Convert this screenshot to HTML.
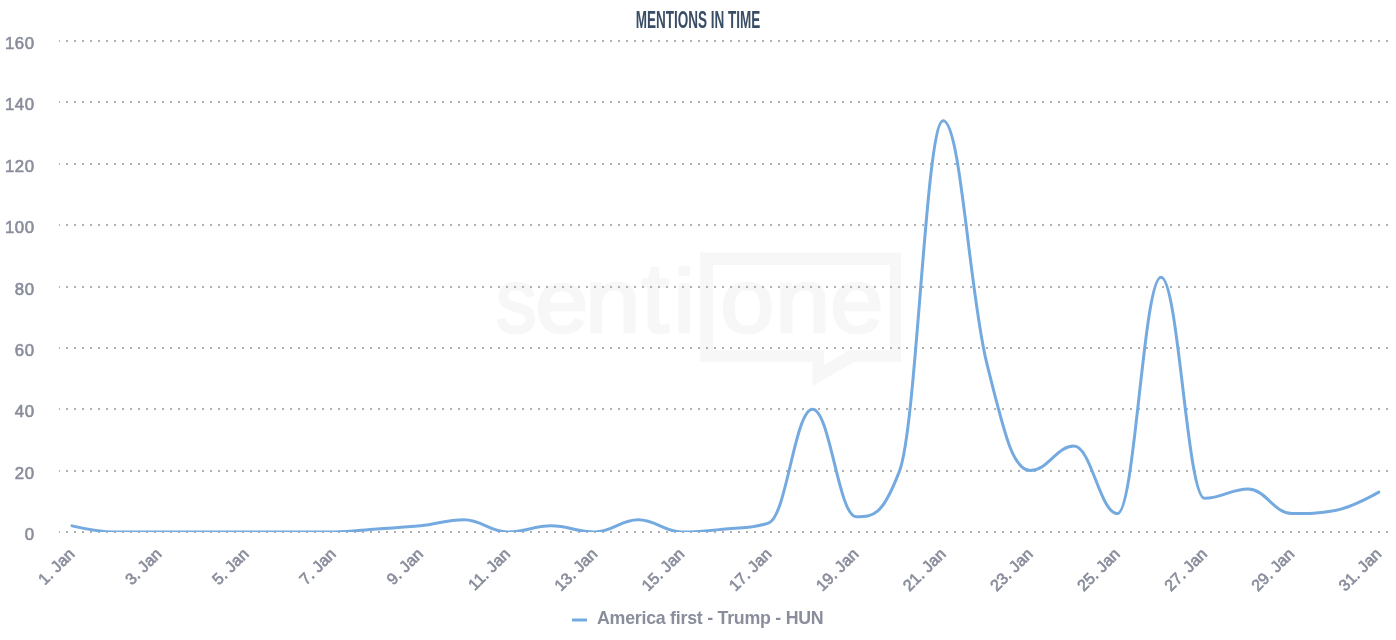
<!DOCTYPE html>
<html><head><meta charset="utf-8"><style>
html,body{margin:0;padding:0;background:#fff;}
body{width:1396px;height:640px;overflow:hidden;}
svg{display:block;will-change:transform;}
text{font-family:"Liberation Sans",sans-serif;}
.yl{font-size:16.8px;letter-spacing:0.6px;fill:#898d9b;stroke:#898d9b;stroke-width:0.6px;}
.xl{font-size:16px;fill:#8a8e9c;stroke:#8a8e9c;stroke-width:0.65px;}
.title{font-size:23.3px;font-weight:bold;fill:#3a4d66;}
.leg{font-size:17.8px;letter-spacing:-0.25px;font-weight:bold;fill:#8a8e9c;}
</style></head><body>
<svg width="1396" height="640" viewBox="0 0 1396 640">

<g fill="#f7f7f7">
<text transform="matrix(0.4086 0 0 0.4522 495.77 331.74)" font-size="200" stroke="#f7f7f7" stroke-width="6">s</text>
<text transform="matrix(0.4737 0 0 0.4483 535.56 331.76)" font-size="200" stroke="#f7f7f7" stroke-width="6">e</text>
<text transform="matrix(0.4978 0 0 0.4518 585.02 332.14)" font-size="200" stroke="#f7f7f7" stroke-width="6">n</text>
<text transform="matrix(0.4930 0 0 0.4891 641.60 331.55)" font-size="200" stroke="#f7f7f7" stroke-width="6">t</text>
<text transform="matrix(0.4875 0 0 0.4483 673.42 332.15)" font-size="200" stroke="#f7f7f7" stroke-width="6">i</text>
<text transform="matrix(0.4871 0 0 0.4569 720.26 331.72)" font-size="200" stroke="#f7f7f7" stroke-width="6">o</text>
<text transform="matrix(0.4945 0 0 0.4561 775.35 331.63)" font-size="200" stroke="#f7f7f7" stroke-width="6">n</text>
<text transform="matrix(0.4768 0 0 0.4569 830.14 331.72)" font-size="200" stroke="#f7f7f7" stroke-width="6">e</text>
<path d="M700 252.5 H901 V362 H854 L812.5 386 V362 H700 Z M713 265 V350 H824 V365 L850 350 H890 V265 Z" fill-rule="evenodd"/>
</g>
<path d="M59 41 H1388" stroke="#b0b0b0" stroke-width="2" stroke-dasharray="2,6" stroke-dashoffset="1"/>
<path d="M59 102 H1388" stroke="#b0b0b0" stroke-width="2" stroke-dasharray="2,6" stroke-dashoffset="1"/>
<path d="M59 164 H1388" stroke="#b0b0b0" stroke-width="2" stroke-dasharray="2,6" stroke-dashoffset="1"/>
<path d="M59 225 H1388" stroke="#b0b0b0" stroke-width="2" stroke-dasharray="2,6" stroke-dashoffset="1"/>
<path d="M59 287 H1388" stroke="#b0b0b0" stroke-width="2" stroke-dasharray="2,6" stroke-dashoffset="1"/>
<path d="M59 348 H1388" stroke="#b0b0b0" stroke-width="2" stroke-dasharray="2,6" stroke-dashoffset="1"/>
<path d="M59 409 H1388" stroke="#b0b0b0" stroke-width="2" stroke-dasharray="2,6" stroke-dashoffset="1"/>
<path d="M59 471 H1388" stroke="#b0b0b0" stroke-width="2" stroke-dasharray="2,6" stroke-dashoffset="1"/>
<path d="M59 532 H1388" stroke="#b0b0b0" stroke-width="2" stroke-dasharray="2,6" stroke-dashoffset="1"/>
<text x="34.7" y="48.8" text-anchor="end" class="yl">160</text>
<text x="34.7" y="109.8" text-anchor="end" class="yl">140</text>
<text x="34.7" y="171.8" text-anchor="end" class="yl">120</text>
<text x="34.7" y="232.8" text-anchor="end" class="yl">100</text>
<text x="34.7" y="294.8" text-anchor="end" class="yl">80</text>
<text x="34.7" y="355.8" text-anchor="end" class="yl">60</text>
<text x="34.7" y="416.8" text-anchor="end" class="yl">40</text>
<text x="34.7" y="478.8" text-anchor="end" class="yl">20</text>
<text x="34.7" y="539.8" text-anchor="end" class="yl">0</text>
<clipPath id="pc"><rect x="0" y="0" width="1396" height="532"/></clipPath><path clip-path="url(#pc)" d="M 72.00 525.86 C 72.00 525.86 98.14 532.00 115.56 532.00 C 132.98 532.00 141.70 532.00 159.12 532.00 C 176.54 532.00 185.26 532.00 202.68 532.00 C 220.10 532.00 228.82 532.00 246.24 532.00 C 263.66 532.00 272.38 532.00 289.80 532.00 C 307.22 532.00 315.94 532.00 333.36 532.00 C 350.78 532.00 359.50 530.16 376.92 528.93 C 394.34 527.70 403.06 527.70 420.48 525.86 C 437.90 524.02 446.62 519.73 464.04 519.73 C 481.46 519.73 490.18 532.00 507.60 532.00 C 525.02 532.00 533.74 525.86 551.16 525.86 C 568.58 525.86 577.30 532.00 594.72 532.00 C 612.14 532.00 620.86 519.73 638.28 519.73 C 655.70 519.73 664.42 532.00 681.84 532.00 C 699.26 532.00 707.98 530.77 725.40 528.93 C 742.82 527.09 751.54 528.93 768.96 522.79 C 786.38 516.66 795.10 409.25 812.52 409.25 C 829.94 409.25 838.66 516.66 856.08 516.66 C 873.50 516.66 882.22 516.66 899.64 470.62 C 917.06 424.59 925.78 120.79 943.20 120.79 C 960.62 120.79 969.34 293.25 986.76 363.22 C 1004.18 433.19 1012.90 470.62 1030.32 470.62 C 1047.74 470.62 1056.46 446.07 1073.88 446.07 C 1091.30 446.07 1100.02 513.59 1117.44 513.59 C 1134.86 513.59 1143.58 277.29 1161.00 277.29 C 1178.42 277.29 1187.14 498.24 1204.56 498.24 C 1221.98 498.24 1230.70 489.04 1248.12 489.04 C 1265.54 489.04 1274.26 513.59 1291.68 513.59 C 1309.10 513.59 1317.82 513.59 1335.24 510.52 C 1352.66 507.45 1378.80 492.11 1378.80 492.11" fill="none" stroke="#74aadf" stroke-width="3" stroke-linecap="round" stroke-linejoin="round"/>
<text x="75.5" y="555" text-anchor="end" transform="rotate(-45 75.5 555)" class="xl">1. Jan</text>
<text x="162.6" y="555" text-anchor="end" transform="rotate(-45 162.6 555)" class="xl">3. Jan</text>
<text x="249.7" y="555" text-anchor="end" transform="rotate(-45 249.7 555)" class="xl">5. Jan</text>
<text x="336.9" y="555" text-anchor="end" transform="rotate(-45 336.9 555)" class="xl">7. Jan</text>
<text x="424.0" y="555" text-anchor="end" transform="rotate(-45 424.0 555)" class="xl">9. Jan</text>
<text x="511.1" y="555" text-anchor="end" transform="rotate(-45 511.1 555)" class="xl">11. Jan</text>
<text x="598.2" y="555" text-anchor="end" transform="rotate(-45 598.2 555)" class="xl">13. Jan</text>
<text x="685.3" y="555" text-anchor="end" transform="rotate(-45 685.3 555)" class="xl">15. Jan</text>
<text x="772.5" y="555" text-anchor="end" transform="rotate(-45 772.5 555)" class="xl">17. Jan</text>
<text x="859.6" y="555" text-anchor="end" transform="rotate(-45 859.6 555)" class="xl">19. Jan</text>
<text x="946.7" y="555" text-anchor="end" transform="rotate(-45 946.7 555)" class="xl">21. Jan</text>
<text x="1033.8" y="555" text-anchor="end" transform="rotate(-45 1033.8 555)" class="xl">23. Jan</text>
<text x="1120.9" y="555" text-anchor="end" transform="rotate(-45 1120.9 555)" class="xl">25. Jan</text>
<text x="1208.1" y="555" text-anchor="end" transform="rotate(-45 1208.1 555)" class="xl">27. Jan</text>
<text x="1295.2" y="555" text-anchor="end" transform="rotate(-45 1295.2 555)" class="xl">29. Jan</text>
<text x="1382.3" y="555" text-anchor="end" transform="rotate(-45 1382.3 555)" class="xl">31. Jan</text>
<text x="698" y="27.8" text-anchor="middle" class="title" transform="translate(698 0) scale(0.58 1) translate(-698 0)">MENTIONS IN TIME</text>
<path d="M572 620 H587" stroke="#74aadf" stroke-width="3"/>
<text x="597" y="624" class="leg">America first - Trump - HUN</text>
</svg>
</body></html>
